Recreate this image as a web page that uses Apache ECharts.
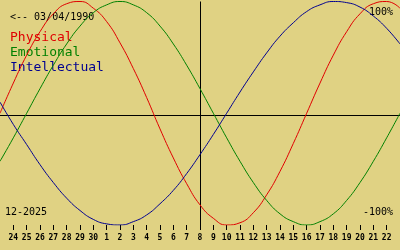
<!DOCTYPE html>
<html>
<head>
<meta charset="utf-8">
<script src="https://cdn.jsdelivr.net/npm/echarts@6/dist/echarts.min.js"></script>
<style>
html,body{margin:0;padding:0;background:#e0d283;}
#c{width:400px;height:250px;}
</style>
</head>
<body>
<div id="c"></div>
<script>
// Day offsets 0..30 = 23 Nov 2025 .. 23 Dec 2025
const tickDays = [1,2,3,4,5,6,7,8,9,10,11,12,13,14,15,16,17,18,19,20,21,22,23,24,25,26,27,28,29];
const tickLabels = ['24','25','26','27','28','29','30','1','2','3','4','5','6','7','8','9','10','11','12','13','14','15','16','17','18','19','20','21','22'];
const todayDay = 15; // 8 Dec
const physical = [0,27,52,73,89,98,100,94,82,63,40,14,-14,-40,-63,-82,-94,-100,-98,-89,-73,-52,-27,0,27,52,73,89,98,100,94];
const emotional = [-43,-22,0,22,43,62,78,90,97,100,97,90,78,62,43,22,0,-22,-43,-62,-78,-90,-97,-100,-97,-90,-78,-62,-43,-22,0];
const intellectual = [10,-10,-28,-46,-62,-76,-87,-95,-99,-100,-97,-91,-81,-69,-54,-37,-19,0,19,37,54,69,81,91,97,100,99,95,87,76,62];
const baselineValue = -1.5;
const birthText = '<-- 03/04/1990';
const monthText = '12-2025';
const topText = '100%';
const bottomText = '-100%';
const seriesNames = ['Physical','Emotional','Intellectual'];
const seriesColors = ['#e00000','#008000','#000090'];

const chart = echarts.init(document.getElementById('c'), null, {renderer:'canvas'});
const toPairs = arr => arr.map((v,i)=>[i,v]);
const allSeries = [physical, emotional, intellectual].map((d,k)=>({
  name: seriesNames[k],
  type: 'line',
  data: toPairs(d),
  smooth: true,
  showSymbol: false,
  silent: true,
  lineStyle: {color: seriesColors[k], width: 1},
  z: 3
}));
allSeries[0].markLine = {
  silent: true,
  symbol: ['none','none'],
  label: {show:false},
  lineStyle: {color:'#000', width:1, type:'solid'},
  data: [{yAxis: baselineValue}, {xAxis: todayDay}],
  z: 1
};
const mono = '"DejaVu Sans Mono", monospace';
chart.setOption({
  animation: false,
  backgroundColor: '#e0d283',
  grid: {left: 0, right: 0, top: 1.5, bottom: 25},
  xAxis: {
    type: 'value', min: 0, max: 30,
    axisLine: {show:false, onZero:false},
    splitLine: {show:false},
    axisTick: {show:true, customValues: tickDays, length: 5, lineStyle:{color:'#000', width:1}},
    axisLabel: {show:true, customValues: tickDays, margin: 9, color:'#000',
      fontFamily: mono, fontSize: 8, fontWeight: 'bold',
      formatter: v => tickLabels[tickDays.indexOf(v)]}
  },
  yAxis: {
    type: 'value', min: -100, max: 100,
    axisLine:{show:false}, axisTick:{show:false}, axisLabel:{show:false}, splitLine:{show:false}
  },
  series: allSeries,
  graphic: [
    {type:'text', left: 10, top: 12, style:{text: birthText, fill:'#000', font:'10px ' + mono}},
    {type:'text', left: 10, top: 31, style:{text: seriesNames[0], fill: seriesColors[0], font:'13px ' + mono}},
    {type:'text', left: 10, top: 46, style:{text: seriesNames[1], fill: seriesColors[1], font:'13px ' + mono}},
    {type:'text', left: 10, top: 61, style:{text: seriesNames[2], fill: seriesColors[2], font:'13px ' + mono}},
    {type:'text', right: 7, top: 7, style:{text: topText, fill:'#000', font:'10px ' + mono}},
    {type:'text', right: 7, top: 207, style:{text: bottomText, fill:'#000', font:'10px ' + mono}},
    {type:'text', left: 5, top: 207, style:{text: monthText, fill:'#000', font:'10px ' + mono}}
  ]
});
</script>
</body>
</html>
